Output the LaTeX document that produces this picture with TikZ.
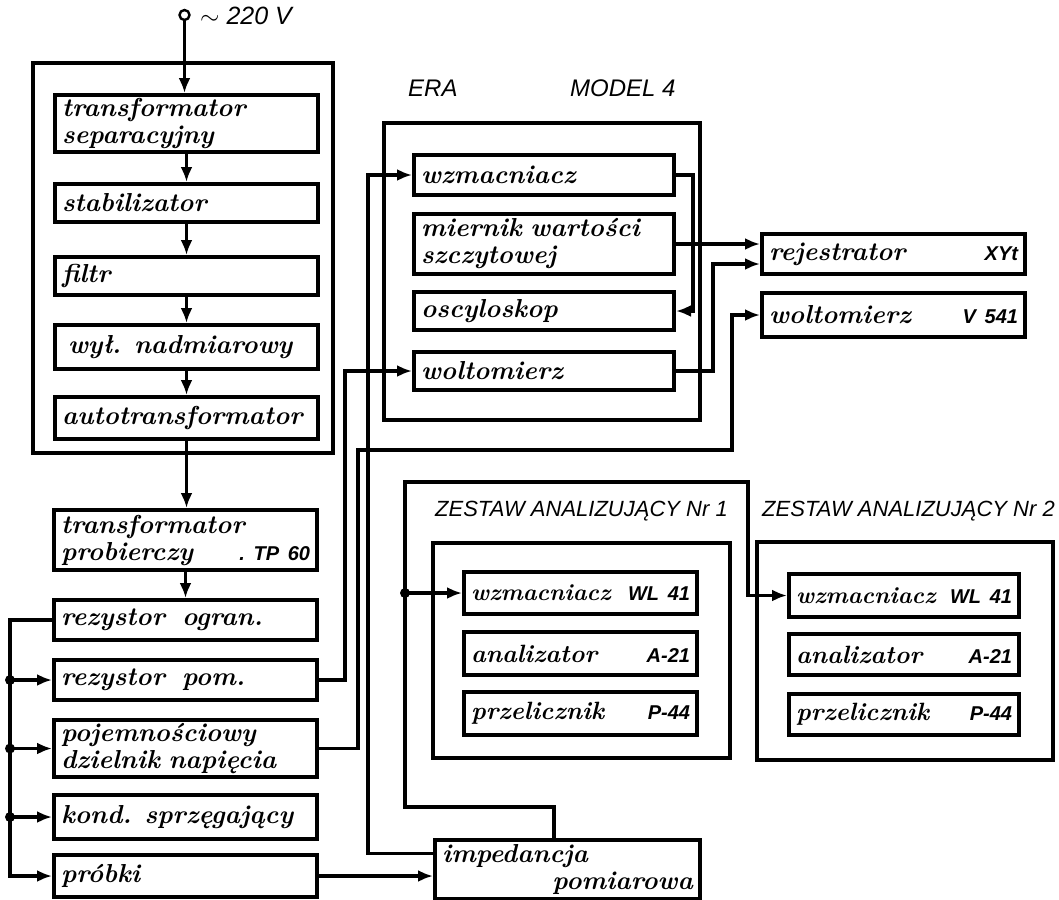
\documentclass[tikz,border=0pt]{standalone}
\usepackage{fontspec}
\usetikzlibrary{arrows.meta,calc}
\newfontfamily\lab{Liberation Sans}
\newcommand\handfont{\fontsize{26}{27}\selectfont\bfseries\itshape}
\newcommand\myhs{\fontsize{25}{26}\selectfont}
\newcommand\myhss{\fontsize{23.5}{26}\selectfont}
\newcommand\labfont{\lab\itshape\fontsize{22}{24}\selectfont}
\newcommand\codefont{\lab\bfseries\itshape\fontsize{20}{24}\selectfont}
\tikzset{
  box/.style={draw, line width=4pt, rectangle, inner xsep=7pt, inner ysep=0pt, align=left, font=\handfont},
  outer/.style={draw, line width=3.2pt},
  wire/.style={line width=3.3pt},
  arr/.style={-{Latex[length=15pt,width=12pt]}},
  dot/.style={circle, fill, inner sep=0pt, minimum size=10pt},
  lbl/.style={font=\labfont, inner sep=0pt, anchor=west},
}
\newcommand\bx[6]{%
  \pgfmathsetmacro\mybw{#4-#2}\pgfmathsetmacro\mybh{#5-#3}\pgfmathsetmacro\mytw{#4-#2-14}%
  \node[box, anchor=north west, minimum width=\mybw pt, minimum height=\mybh pt, text width=\mytw pt] (#1) at (#2,#3) {#6};}
\begin{document}
\begin{tikzpicture}[x=1pt,y=-1pt]
\fill[white] (0,0) rectangle (1059,899);
\useasboundingbox (0,0) rectangle (1059,899);
% power supply group
\draw[outer] (33,63) rectangle (333,453);
\bx{ts}{53}{93}{316}{150}{transformator\\separacyjny}
\bx{stab}{53}{182}{316}{220}{stabilizator}
\bx{filtr}{53}{255}{316}{293}{filtr}
\bx{wyl}{53}{323}{316}{367}{\hspace*{6pt}wył. nadmiarowy}
\bx{auto}{53}{395}{316}{437}{autotransformator}
% lower column
\bx{tp}{52}{508}{315}{568}{transformator\\probierczy\hspace*{\fill}{\codefont .\ TP 60}\hspace*{6pt}}
\bx{ro}{52}{598}{315}{638}{rezystor\ \ ogran.}
\bx{rp}{52}{658}{315}{698}{rezystor\ \ pom.}
\bx{pd}{52}{718}{315}{775}{pojemnościowy\\dzielnik napięcia}
\bx{ks}{52}{793}{315}{837}{kond. sprzęgający}
\bx{pr}{52}{853}{315}{895}{próbki}
% ERA
\node[lbl, font=\labfont\fontsize{24}{26}\selectfont] (era) at (408,88) {ERA};
\node[lbl, font=\labfont\fontsize{24}{26}\selectfont] (model) at (570,88) {MODEL 4};
\draw[outer] (384,123) rectangle (700,420);
\bx{ewz}{412}{153}{672}{193}{wzmacniacz}
\bx{mier}{412}{212}{672}{272}{miernik wartości\\szczytowej}
\bx{osc}{412}{290}{672}{328}{oscyloskop}
\bx{ewol}{412}{350}{672}{388}{woltomierz}
\bx{rej}{760}{232}{1023}{272}{rejestrator\hspace*{\fill}{\codefont XYt}\hspace*{24pt}}
\bx{vm}{760}{291}{1023}{335}{woltomierz\hspace*{\fill}{\codefont V 541}}
% analysers
\node[lbl] (z1) at (435,511) {ZESTAW ANALIZUJĄCY Nr 1};
\node[lbl] (z2) at (762,511) {ZESTAW ANALIZUJĄCY Nr 2};
\draw[outer] (433,543) rectangle (730,758);
\bx{wza}{462}{570}{695}{612}{\myhss wzmacniacz\hspace*{\fill}{\codefont WL 41}}
\bx{ana}{462}{630}{695}{673}{\myhs analizator\hspace*{\fill}{\codefont A-21}}
\bx{pza}{462}{690}{695}{733}{\myhs przelicznik\hspace*{\fill}{\codefont P-44}}
\draw[outer] (757,542) rectangle (1053,760);
\bx{wzb}{787}{572}{1017}{615}{\myhss wzmacniacz\hspace*{\fill}{\codefont WL 41}}
\bx{anb}{787}{632}{1017}{673}{\myhs analizator\hspace*{\fill}{\codefont A-21}}
\bx{pzb}{787}{692}{1017}{733}{\myhs przelicznik\hspace*{\fill}{\codefont P-44}}
\bx{imp}{433}{838}{698}{897}{impedancja\\\hspace*{\fill}pomiarowa}
% source
\node[circle, draw, line width=2.4pt, fill=white, minimum size=10pt, inner sep=0pt] (src) at (184.5,15) {};
\node[lbl, font=\labfont\fontsize{25}{27}\selectfont] (vlab) at (200,16) {$\sim$ 220 V};
% power chain
\draw[wire,arr] (src.south) -- (src.south |- ts.north);
\draw[wire,arr] (ts) -- (stab);
\draw[wire,arr] (stab) -- (filtr);
\draw[wire,arr] (filtr) -- (wyl);
\draw[wire,arr] (wyl) -- (auto);
\draw[wire,arr] (auto.south) -- (auto.south |- tp.north);
\draw[wire,arr] (tp.south) -- (tp.south |- ro.north);
% left bus
\coordinate (bx) at (10,0);
\draw[wire,arr] (ro.west) -- (ro.west -| bx) -- (pr.west -| bx) -- (pr.west);
\foreach \n in {rp,pd,ks} {
  \draw[wire,arr] (\n.west -| bx) -- (\n.west);
  \node[dot] (dot\n) at (\n.west -| bx) {};
}
% rp -> ERA woltomierz
\coordinate (xa) at (345,0);
\draw[wire,arr] (rp.east) -- (rp.east -| xa) -- (ewol.west -| xa) -- (ewol.west);
% pd -> V541
\coordinate (xb) at (358,0); \coordinate (yb) at (0,450); \coordinate (xc) at (732,0);
\draw[wire,arr] (pd.east) -- (pd.east -| xb) -- (xb |- yb) -- (xc |- yb) -- (vm.west -| xc) -- (vm.west);
% imp -> ERA wzmacniacz
\coordinate (xd) at (368,0);
\coordinate (ia) at ($(imp.north west)!0.25!(imp.south west)$);
\draw[wire,arr] (ia) -- (ia -| xd) -- (ewz.west -| xd) -- (ewz.west);
% probki -> imp
\draw[wire,arr] (pr.east) -- (pr.east -| imp.west);
% imp -> analysers
\coordinate (it) at ($(imp.north west)!0.45!(imp.north east)$);
\coordinate (ye) at (0,807); \coordinate (xe) at (405,0);
\coordinate (yf) at (0,482); \coordinate (xf) at (748,0);
\draw[wire] (it) -- (it |- ye) -- (xe |- ye) -- (wza.west -| xe);
\draw[wire,arr] (wza.west -| xe) -- (wza.west);
\draw[wire,arr] (wza.west -| xe) -- (xe |- yf) -- (xf |- yf) -- (wzb.west -| xf) -- (wzb.west);
\node[dot] (dj) at (wza.west -| xe) {};
% ERA internal
\coordinate (xg) at (693,0);
\draw[wire,arr] (ewz.east) -- (ewz.east -| xg) -- (osc.east -| xg) -- (osc.east);
\draw[wire,arr] (mier.east) -- (mier.east -| rej.west);
\coordinate (xh) at (713,0);
\coordinate (rl) at ($(rej.west)+(0,10)$);
\draw[wire,arr] (ewol.east) -- (ewol.east -| xh) -- (xh |- rl) -- (rl);
\end{tikzpicture}
\end{document}
